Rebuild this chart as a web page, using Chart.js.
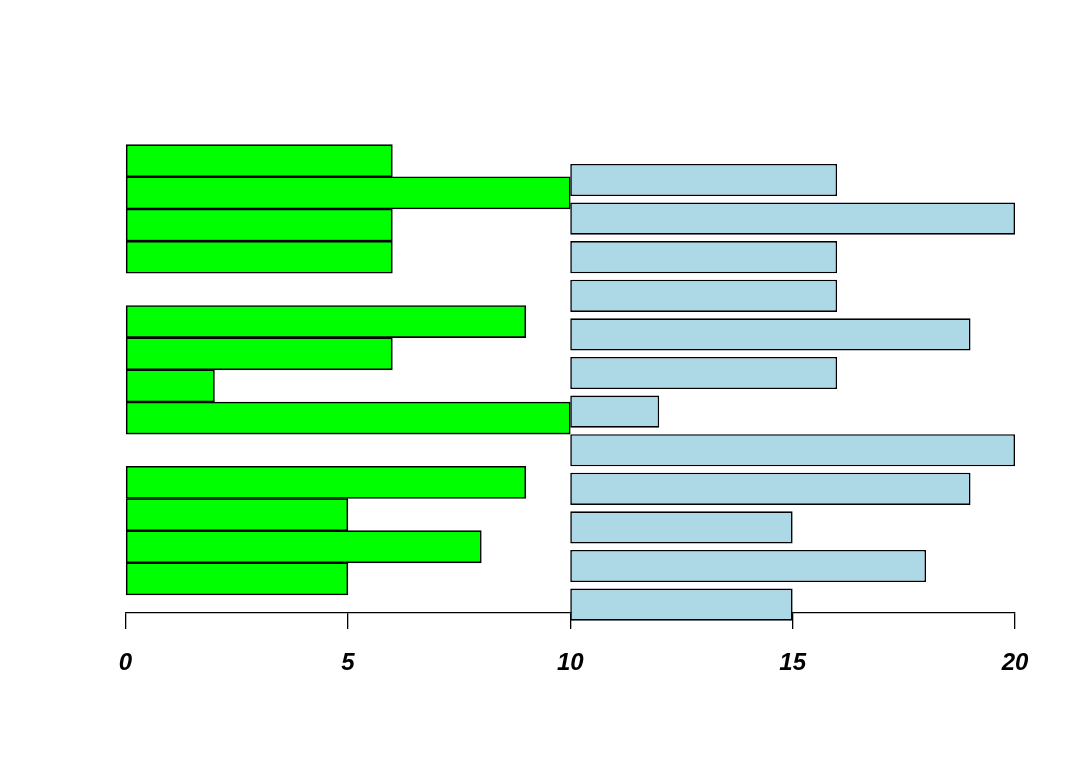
<!DOCTYPE html>
<html>
<head>
<meta charset="utf-8">
<script src="https://cdn.jsdelivr.net/npm/chart.js@4.4.1/dist/chart.umd.min.js"></script>
<style>
  html, body { margin: 0; padding: 0; background: #ffffff; }
  #wrap { width: 1080px; height: 771px; }
</style>
</head>
<body>
<div id="wrap"><canvas id="c" width="1080" height="771"></canvas></div>
<script>
// Green series: 3 groups of 4 bars (bottom to top), bars start at 0
const greenValues = [5, 8, 5, 9, 10, 2, 6, 9, 6, 6, 10, 6];
const greenGroupSize = 4;
// Light blue series: 12 bars (bottom to top), bars start at 10
const blueBase = 10;
const blueValues = [15, 18, 15, 19, 20, 12, 16, 19, 16, 16, 20, 16];
// X axis tick labels
const xTicks = [0, 5, 10, 15, 20];

// barplot-style positions (unit bar width): beside groups with space c(0,1); vector with space 0.2
const greenCenters = greenValues.map((v, i) => {
  const g = Math.floor(i / greenGroupSize), j = i % greenGroupSize;
  return 1 + g * (greenGroupSize + 1) + j + 0.5;
});
const blueCenters = blueValues.map((v, i) => 0.2 + i * 1.2 + 0.5);

const yMin = 0.44, yMax = 15.56;
const noTicks = s => { s.ticks = []; };

new Chart(document.getElementById('c'), {
  type: 'bar',
  data: {
    datasets: [
      {
        data: greenValues.map((v, i) => ({ x: [0, v], y: greenCenters[i] })),
        backgroundColor: '#00ff00',
        borderColor: '#000000',
        borderWidth: 1.6,
        borderSkipped: false,
        yAxisID: 'y',
        barPercentage: 1,
        categoryPercentage: 1,
        grouped: false,
        clip: false
      },
      {
        data: blueValues.map((v, i) => ({ x: [blueBase, v], y: blueCenters[i] })),
        backgroundColor: '#add8e6',
        borderColor: '#000000',
        borderWidth: 1.6,
        borderSkipped: false,
        yAxisID: 'y2',
        barPercentage: 1 / 1.2,
        categoryPercentage: 1,
        grouped: false,
        clip: false
      }
    ]
  },
  options: {
    indexAxis: 'y',
    responsive: false,
    animation: false,
    layout: { padding: { left: 125.5, right: 65, top: 126.6, bottom: 0 } },
    plugins: { legend: { display: false }, tooltip: { enabled: false } },
    scales: {
      x: {
        type: 'linear',
        min: 0, max: 20,
        afterBuildTicks: s => { s.ticks = xTicks.map(v => ({ value: v })); },
        afterFit: s => { s.height = 158; },
        border: { display: true, color: '#000000', width: 1.3 },
        grid: { drawOnChartArea: false, drawTicks: true, tickLength: 16, color: '#000000', lineWidth: 1.3 },
        ticks: {
          color: '#000000',
          padding: 20,
          maxRotation: 0,
          autoSkip: false,
          font: { family: 'Liberation Sans, Arial, sans-serif', size: 24, weight: 'bold', style: 'italic' }
        }
      },
      y: {
        type: 'linear', min: yMin, max: yMax, display: false,
        afterBuildTicks: noTicks
      },
      y2: {
        type: 'linear', min: yMin, max: yMax, display: false,
        afterBuildTicks: noTicks
      }
    }
  }
});
</script>
</body>
</html>
